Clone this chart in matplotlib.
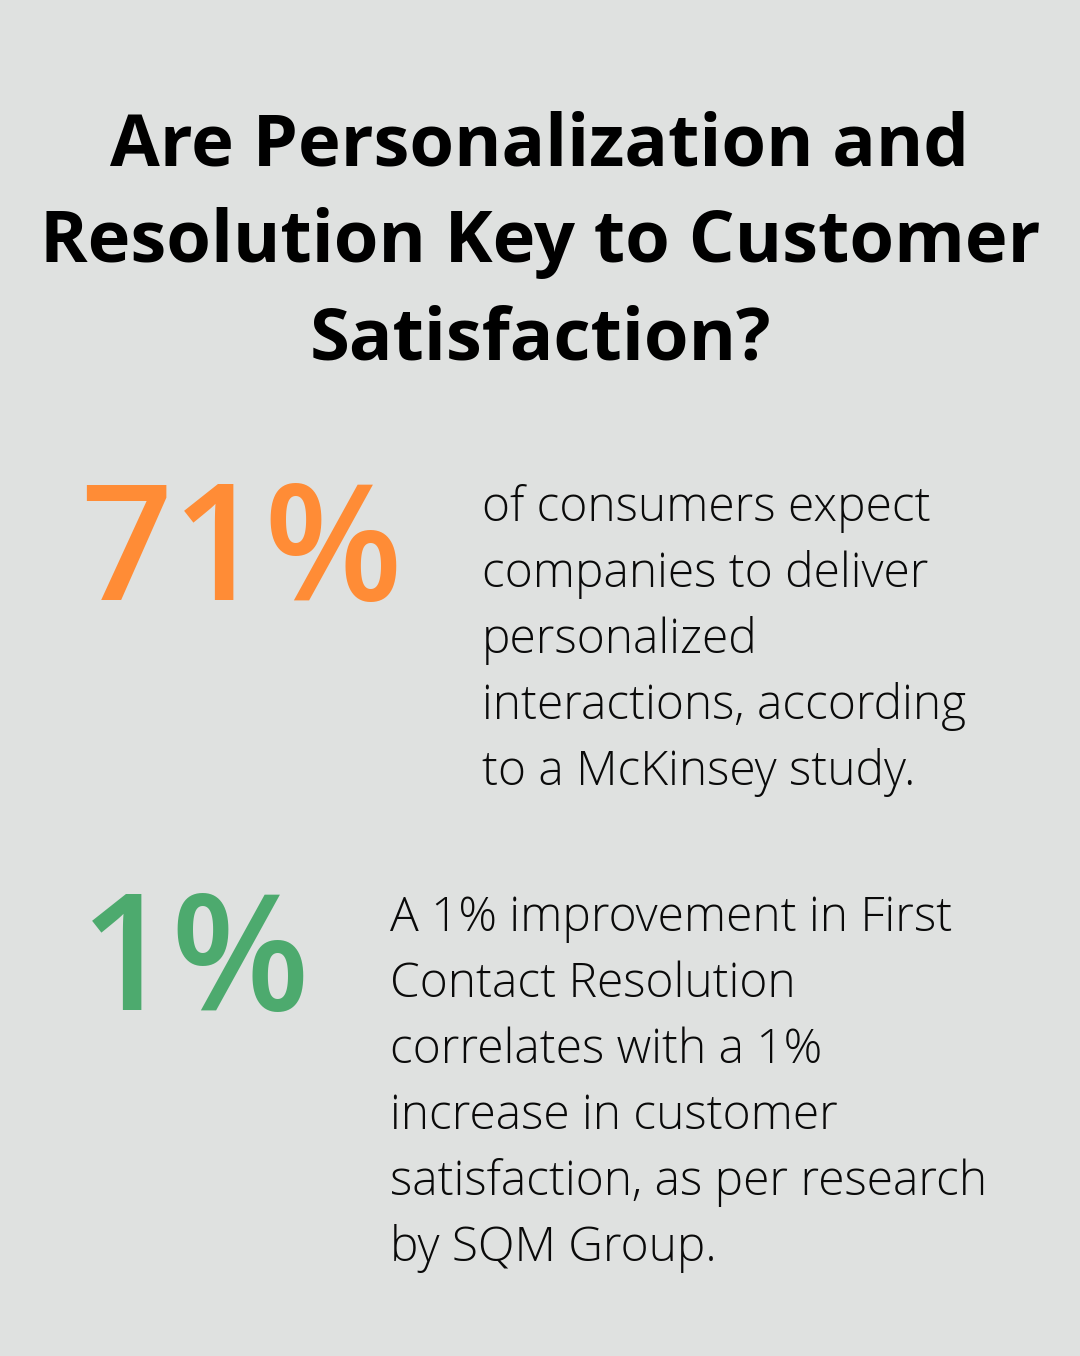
import matplotlib.pyplot as plt

plt.rcParams['font.family'] = ['Open Sans', 'DejaVu Sans']

# contenido del gráfico
titulo = ["Are Personalization and",
          "Resolution Key to Customer",
          "Satisfaction?"]
cifras = ["71%", "1%"]
colores_cifras = ["#FF8C36", "#4DAA6E"]
textos = [
    ["of consumers expect",
     "companies to deliver",
     "personalized",
     "interactions, according",
     "to a McKinsey study."],
    ["A 1% improvement in First",
     "Contact Resolution",
     "correlates with a 1%",
     "increase in customer",
     "satisfaction, as per research",
     "by SQM Group."],
]

fondo = "#DFE1E0"

fig = plt.figure(figsize=(10.8, 13.56), dpi=100, facecolor=fondo)
ax = fig.add_axes([0, 0, 1, 1])
ax.set_xlim(0, 1080)
ax.set_ylim(1356, 0)
ax.axis('off')
ax.set_facecolor(fondo)

# titulo
for i, linea in enumerate(titulo):
    ax.text(540, 165 + i * 97, linea, ha='center', va='baseline',
            fontsize=52, fontweight='bold', color='#000000')

# bloques con cifra grande y texto
pos_cifra = [(80, 600), (80, 1010)]
pos_texto = [(482, 521), (390, 931)]
for cifra, color, lineas, (cx, cy), (tx, ty) in zip(cifras, colores_cifras, textos, pos_cifra, pos_texto):
    ax.text(cx, cy, cifra, ha='left', va='baseline', fontsize=116,
            fontweight='semibold', color=color)
    for j, linea in enumerate(lineas):
        ax.text(tx, ty + j * 66, linea, ha='left', va='baseline',
                fontsize=34.5, fontweight='light', color='#0A0A0A')

fig.savefig('out.png', dpi=100, facecolor=fondo)
